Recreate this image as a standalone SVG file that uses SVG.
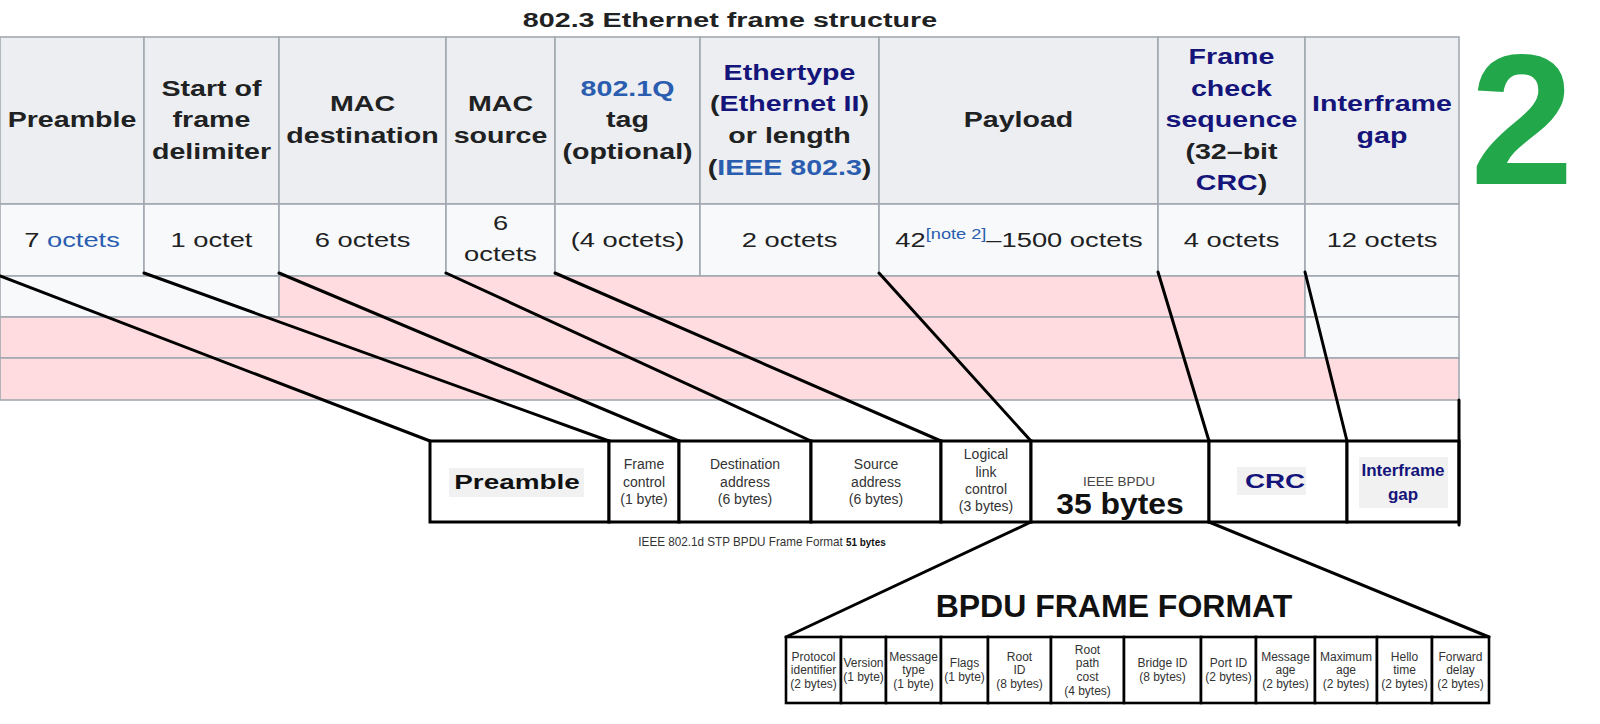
<svg xmlns="http://www.w3.org/2000/svg" width="1600" height="724" viewBox="0 0 1600 724">
<style>
text{font-family:"Liberation Sans",Arial,Helvetica,sans-serif}
.title{font-weight:bold;font-size:20.5px;fill:#202122;text-anchor:middle}
.th{font-weight:bold;font-size:22px;fill:#202122;text-anchor:middle}
.td{font-size:21px;fill:#202122;text-anchor:middle}
.lk{fill:#2a5db0}
.nv{fill:#14147a}
.hb{fill:#eceef1;stroke:#a2a9b1;stroke-width:1.6}
.db{fill:#f8f9fa;stroke:#a2a9b1;stroke-width:1.6}
.pk{fill:#fedcdf;stroke:#a2a9b1;stroke-width:1.6}
.conn line{stroke:#000;stroke-width:3;stroke-linecap:round}
.box{fill:#fff;stroke:#000;stroke-width:3}
.gbg{fill:#f1f1f1}
.sm{font-size:14px;fill:#333;text-anchor:middle}
.bp{font-size:12px;fill:#333;text-anchor:middle}
.bb{fill:#fff;stroke:#000;stroke-width:2.6}
</style>

<text class="title" transform="translate(730,0) scale(1.4,1)" x="0" y="27">802.3 Ethernet frame structure</text>

<g id="table">
  <g id="col-preamble">
    <rect class="hb" x="0" y="37" width="144" height="167"/>
    <rect class="db" x="0" y="204" width="144" height="72"/>
    <text class="th" transform="translate(72,0) scale(1.3,1)"><tspan x="0" y="127.3">Preamble</tspan></text>
    <text class="td" transform="translate(72,0) scale(1.3,1)"><tspan x="0" y="247.5">7 <tspan class="lk">octets</tspan></tspan></text>
  </g>
  <g id="col-sfd">
    <rect class="hb" x="144" y="37" width="135" height="167"/>
    <rect class="db" x="144" y="204" width="135" height="72"/>
    <text class="th" transform="translate(211.5,0) scale(1.3,1)"><tspan x="0" y="95.7">Start of</tspan><tspan x="0" y="127.3">frame</tspan><tspan x="0" y="158.9">delimiter</tspan></text>
    <text class="td" transform="translate(211.5,0) scale(1.3,1)"><tspan x="0" y="247.5">1 octet</tspan></text>
  </g>
  <g id="col-macdst">
    <rect class="hb" x="279" y="37" width="167" height="167"/>
    <rect class="db" x="279" y="204" width="167" height="72"/>
    <text class="th" transform="translate(362.5,0) scale(1.3,1)"><tspan x="0" y="111.5">MAC</tspan><tspan x="0" y="143.1">destination</tspan></text>
    <text class="td" transform="translate(362.5,0) scale(1.3,1)"><tspan x="0" y="247.5">6 octets</tspan></text>
  </g>
  <g id="col-macsrc">
    <rect class="hb" x="446" y="37" width="109" height="167"/>
    <rect class="db" x="446" y="204" width="109" height="72"/>
    <text class="th" transform="translate(500.5,0) scale(1.3,1)"><tspan x="0" y="111.5">MAC</tspan><tspan x="0" y="143.1">source</tspan></text>
    <text class="td" transform="translate(500.5,0) scale(1.3,1)"><tspan x="0" y="230">6</tspan><tspan x="0" y="261">octets</tspan></text>
  </g>
  <g id="col-8021q">
    <rect class="hb" x="555" y="37" width="145" height="167"/>
    <rect class="db" x="555" y="204" width="145" height="72"/>
    <text class="th" transform="translate(627.5,0) scale(1.3,1)"><tspan x="0" y="95.7" class="lk">802.1Q</tspan><tspan x="0" y="127.3">tag</tspan><tspan x="0" y="158.9">(optional)</tspan></text>
    <text class="td" transform="translate(627.5,0) scale(1.3,1)"><tspan x="0" y="247.5">(4 octets)</tspan></text>
  </g>
  <g id="col-ethertype">
    <rect class="hb" x="700" y="37" width="179" height="167"/>
    <rect class="db" x="700" y="204" width="179" height="72"/>
    <text class="th" transform="translate(789.5,0) scale(1.3,1)"><tspan x="0" y="79.9" class="nv">Ethertype</tspan><tspan x="0" y="111.5">(<tspan class="nv">Ethernet II</tspan>)</tspan><tspan x="0" y="143.1">or length</tspan><tspan x="0" y="174.7">(<tspan class="lk">IEEE 802.3</tspan>)</tspan></text>
    <text class="td" transform="translate(789.5,0) scale(1.3,1)"><tspan x="0" y="247.5">2 octets</tspan></text>
  </g>
  <g id="col-payload">
    <rect class="hb" x="879" y="37" width="279" height="167"/>
    <rect class="db" x="879" y="204" width="279" height="72"/>
    <text class="th" transform="translate(1018.5,0) scale(1.3,1)"><tspan x="0" y="127.3">Payload</tspan></text>
    <text class="td" transform="translate(1019,0) scale(1.3,1)"><tspan x="0" y="247.5">42<tspan class="lk" font-size="14" dy="-8">[note 2]</tspan><tspan dy="8">–1500 octets</tspan></tspan></text>
  </g>
  <g id="col-fcs">
    <rect class="hb" x="1158" y="37" width="147" height="167"/>
    <rect class="db" x="1158" y="204" width="147" height="72"/>
    <text class="th" transform="translate(1231.5,0) scale(1.3,1)"><tspan x="0" y="64.1" class="nv">Frame</tspan><tspan x="0" y="95.7" class="nv">check</tspan><tspan x="0" y="127.3" class="nv">sequence</tspan><tspan x="0" y="158.9">(32–bit</tspan><tspan x="0" y="190.5"><tspan class="nv">CRC</tspan>)</tspan></text>
    <text class="td" transform="translate(1231.5,0) scale(1.3,1)"><tspan x="0" y="247.5">4 octets</tspan></text>
  </g>
  <g id="col-ifg">
    <rect class="hb" x="1305" y="37" width="154" height="167"/>
    <rect class="db" x="1305" y="204" width="154" height="72"/>
    <text class="th nv" transform="translate(1382,0) scale(1.3,1)"><tspan x="0" y="111.5">Interframe</tspan><tspan x="0" y="143.1">gap</tspan></text>
    <text class="td" transform="translate(1382,0) scale(1.3,1)"><tspan x="0" y="247.5">12 octets</tspan></text>
  </g>
  <g id="rows-highlight">
    <rect class="db" x="0" y="276" width="279" height="41"/>
    <rect class="pk" x="279" y="276" width="1026" height="41"/>
    <rect class="db" x="1305" y="276" width="154" height="41"/>
    <rect class="pk" x="0" y="317" width="1305" height="41"/>
    <rect class="db" x="1305" y="317" width="154" height="41"/>
    <rect class="pk" x="0" y="358" width="1459" height="42"/>
  </g>
</g>

<g id="big-2">
  <text x="1522" y="184" font-size="186" font-weight="bold" fill="#22a84b" text-anchor="middle">2</text>
</g>

<g id="frame">
  <g id="f-preamble">
    <rect class="box" x="430" y="441" width="179" height="81"/>
    <rect class="gbg" x="449" y="468" width="135" height="29"/>
    <text transform="translate(517,0) scale(1.33,1)" x="0" y="489.5" font-size="21" font-weight="bold" fill="#111" text-anchor="middle">Preamble</text>
  </g>
  <g id="f-fc">
    <rect class="box" x="609" y="441" width="70" height="81"/>
    <text class="sm"><tspan x="644" y="469">Frame</tspan><tspan x="644" y="486.5">control</tspan><tspan x="644" y="504">(1 byte)</tspan></text>
  </g>
  <g id="f-dst">
    <rect class="box" x="679" y="441" width="132" height="81"/>
    <text class="sm"><tspan x="745" y="469">Destination</tspan><tspan x="745" y="486.5">address</tspan><tspan x="745" y="504">(6 bytes)</tspan></text>
  </g>
  <g id="f-src">
    <rect class="box" x="811" y="441" width="130" height="81"/>
    <text class="sm"><tspan x="876" y="469">Source</tspan><tspan x="876" y="486.5">address</tspan><tspan x="876" y="504">(6 bytes)</tspan></text>
  </g>
  <g id="f-llc">
    <rect class="box" x="941" y="441" width="90" height="81"/>
    <text class="sm"><tspan x="986" y="459">Logical</tspan><tspan x="986" y="476.5">link</tspan><tspan x="986" y="494">control</tspan><tspan x="986" y="511">(3 bytes)</tspan></text>
  </g>
  <g id="f-bpdu">
    <rect class="box" x="1031" y="441" width="178" height="81"/>
    <text x="1119" y="486" font-size="13.5" fill="#444" text-anchor="middle">IEEE BPDU</text>
    <text transform="translate(1120,0) scale(1.1,1)" x="0" y="514" font-size="29" font-weight="bold" fill="#111" text-anchor="middle">35 bytes</text>
  </g>
  <g id="f-crc">
    <rect class="box" x="1209" y="441" width="138" height="81"/>
    <rect class="gbg" x="1237" y="467" width="69" height="28"/>
    <text transform="translate(1275,0) scale(1.39,1)" x="0" y="488" font-size="20" font-weight="bold" class="nv" text-anchor="middle">CRC</text>
  </g>
  <g id="f-ifg">
    <rect class="box" x="1347" y="441" width="112" height="81"/>
    <rect class="gbg" x="1359" y="457" width="89" height="51"/>
    <text font-size="17" font-weight="bold" class="nv" text-anchor="middle"><tspan x="1403" y="476">Interframe</tspan><tspan x="1403" y="500">gap</tspan></text>
  </g>
  <text transform="translate(762,0) scale(0.9,1)" x="0" y="546" font-size="13" fill="#333" text-anchor="middle">IEEE 802.1d STP BPDU Frame Format <tspan font-weight="bold" font-size="11" fill="#111">51 bytes</tspan></text>
</g>

<g id="bpdu">
  <text x="1114" y="617" font-size="32" font-weight="bold" fill="#111" text-anchor="middle">BPDU FRAME FORMAT</text>
  <g id="b1"><rect class="bb" x="786" y="637" width="55" height="66"/><text class="bp"><tspan x="813.5" y="660.5">Protocol</tspan><tspan x="813.5" y="674">identifier</tspan><tspan x="813.5" y="688">(2 bytes)</tspan></text></g>
  <g id="b2"><rect class="bb" x="841" y="637" width="45" height="66"/><text class="bp"><tspan x="863.5" y="667">Version</tspan><tspan x="863.5" y="681">(1 byte)</tspan></text></g>
  <g id="b3"><rect class="bb" x="886" y="637" width="55" height="66"/><text class="bp"><tspan x="913.5" y="660.5">Message</tspan><tspan x="913.5" y="674">type</tspan><tspan x="913.5" y="688">(1 byte)</tspan></text></g>
  <g id="b4"><rect class="bb" x="941" y="637" width="47" height="66"/><text class="bp"><tspan x="964.5" y="667">Flags</tspan><tspan x="964.5" y="681">(1 byte)</tspan></text></g>
  <g id="b5"><rect class="bb" x="988" y="637" width="63" height="66"/><text class="bp"><tspan x="1019.5" y="660.5">Root</tspan><tspan x="1019.5" y="674">ID</tspan><tspan x="1019.5" y="688">(8 bytes)</tspan></text></g>
  <g id="b6"><rect class="bb" x="1051" y="637" width="73" height="66"/><text class="bp"><tspan x="1087.5" y="653.5">Root</tspan><tspan x="1087.5" y="667">path</tspan><tspan x="1087.5" y="681">cost</tspan><tspan x="1087.5" y="694.5">(4 bytes)</tspan></text></g>
  <g id="b7"><rect class="bb" x="1124" y="637" width="77" height="66"/><text class="bp"><tspan x="1162.5" y="667">Bridge ID</tspan><tspan x="1162.5" y="681">(8 bytes)</tspan></text></g>
  <g id="b8"><rect class="bb" x="1201" y="637" width="55" height="66"/><text class="bp"><tspan x="1228.5" y="667">Port ID</tspan><tspan x="1228.5" y="681">(2 bytes)</tspan></text></g>
  <g id="b9"><rect class="bb" x="1256" y="637" width="59" height="66"/><text class="bp"><tspan x="1285.5" y="660.5">Message</tspan><tspan x="1285.5" y="674">age</tspan><tspan x="1285.5" y="688">(2 bytes)</tspan></text></g>
  <g id="b10"><rect class="bb" x="1315" y="637" width="62" height="66"/><text class="bp"><tspan x="1346" y="660.5">Maximum</tspan><tspan x="1346" y="674">age</tspan><tspan x="1346" y="688">(2 bytes)</tspan></text></g>
  <g id="b11"><rect class="bb" x="1377" y="637" width="55" height="66"/><text class="bp"><tspan x="1404.5" y="660.5">Hello</tspan><tspan x="1404.5" y="674">time</tspan><tspan x="1404.5" y="688">(2 bytes)</tspan></text></g>
  <g id="b12"><rect class="bb" x="1432" y="637" width="57" height="66"/><text class="bp"><tspan x="1460.5" y="660.5">Forward</tspan><tspan x="1460.5" y="674">delay</tspan><tspan x="1460.5" y="688">(2 bytes)</tspan></text></g>
</g>

<g id="connectors" class="conn">
  <line x1="0" y1="276" x2="430" y2="441"/>
  <line x1="144" y1="273" x2="609" y2="441"/>
  <line x1="279" y1="273" x2="679" y2="441"/>
  <line x1="446" y1="273" x2="811" y2="441"/>
  <line x1="555" y1="273" x2="941" y2="441"/>
  <line x1="879" y1="273" x2="1031" y2="441"/>
  <line x1="1158" y1="272" x2="1209" y2="441"/>
  <line x1="1305" y1="272" x2="1347" y2="441"/>
  <line x1="1459" y1="400" x2="1459" y2="525"/>
  <line x1="1031" y1="522" x2="786" y2="637"/>
  <line x1="1209" y1="522" x2="1489" y2="637"/>
</g>
</svg>
